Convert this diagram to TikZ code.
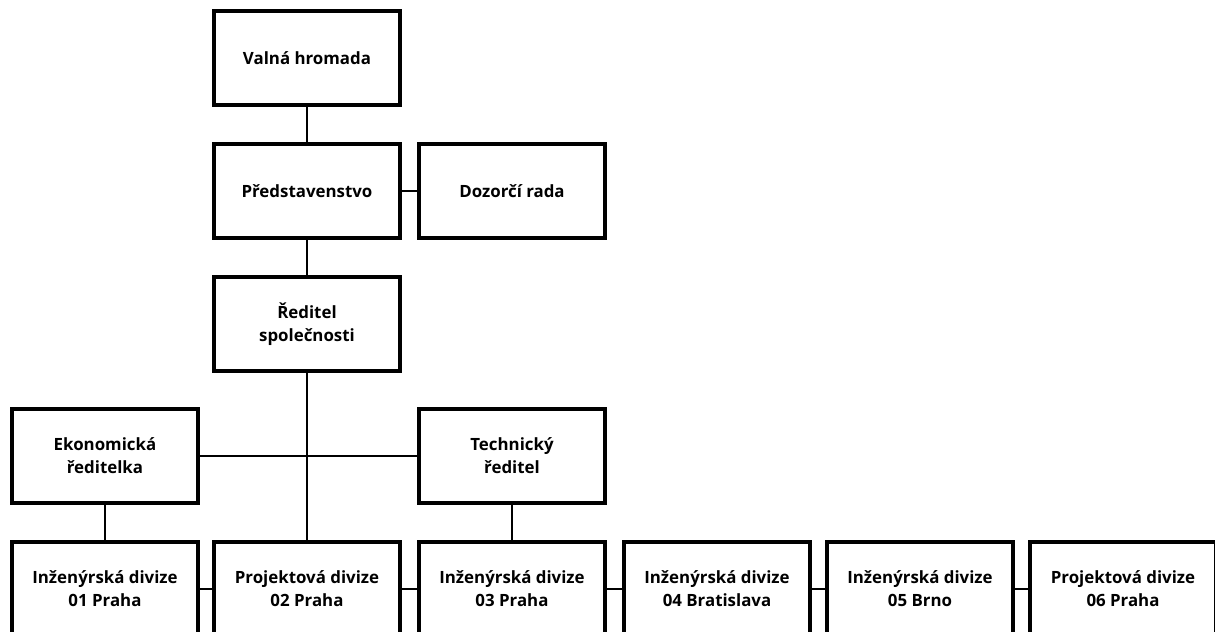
\documentclass[tikz,border=0pt]{standalone}
\usepackage{fontspec}
\setmainfont{Open Sans}
\usepackage{tikz}
\usetikzlibrary{positioning}

\begin{document}
\begin{tikzpicture}[
  x=0.02cm, y=-0.02cm,
  every node/.style={font=\fontsize{9.6}{13}\selectfont\bfseries},
  orgbox/.style={draw, line width=2pt, minimum width=3.72cm, minimum height=1.88cm, align=center, inner sep=3pt},
  link/.style={line width=0.8pt}
]
\clip (0,0) rectangle (1215,632);

% Top management
\node[orgbox] (valna) at (307, 58) {Valná hromada};
\node[orgbox] (pred) at (307, 191) {Představenstvo};
\node[orgbox] (dozor) at (512, 191) {Dozorčí rada};
\node[orgbox] (reditel) at (307, 324) {Ředitel\\společnosti};

% Directors
\node[orgbox] (ekon) at (105, 456) {Ekonomická\\ředitelka};
\node[orgbox] (tech) at (512, 456) {Technický\\ředitel};

% Divisions
\node[orgbox] (div1) at (105, 589) {Inženýrská divize\\01 Praha};
\node[orgbox] (div2) at (307, 589) {Projektová divize\\02 Praha};
\node[orgbox] (div3) at (512, 589) {Inženýrská divize\\03 Praha};
\node[orgbox] (div4) at (717, 589) {Inženýrská divize\\04 Bratislava};
\node[orgbox] (div5) at (920, 589) {Inženýrská divize\\05 Brno};
\node[orgbox] (div6) at (1123, 589) {Projektová divize\\06 Praha};

% Links
\draw[link] (valna) -- (pred);
\draw[link] (pred) -- (dozor);
\draw[link] (pred) -- (reditel);
\draw[link] (reditel) -- (div2);
\draw[link] (ekon) -- (tech);
\draw[link] (ekon) -- (div1);
\draw[link] (tech) -- (div3);
\draw[link] (div1) -- (div2);
\draw[link] (div2) -- (div3);
\draw[link] (div3) -- (div4);
\draw[link] (div4) -- (div5);
\draw[link] (div5) -- (div6);

\end{tikzpicture}
\end{document}
